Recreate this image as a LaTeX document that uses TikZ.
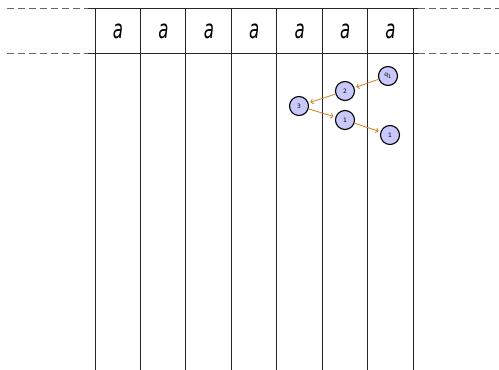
\documentclass[tikz,border=0pt]{standalone}
\usepackage{fontspec}
\setmainfont{DejaVu Sans}[ItalicFont={DejaVu Sans Oblique},BoldFont={DejaVu Sans Bold}]
\usetikzlibrary{arrows.meta}
\begin{document}
\begin{tikzpicture}[x=1pt,y=-1pt,
  grid/.style={line width=1pt,black!85},
  dashline/.style={line width=1pt,gray!80!black,dash pattern=on 7pt off 4pt},
  letter/.style={font=\fontsize{26}{26}\selectfont\itshape,inner sep=0pt},
  st/.style={circle,draw=black,line width=1.1pt,fill={rgb,255:red,200;green,200;blue,250},minimum size=19pt,inner sep=0pt,font=\fontsize{6}{6}\selectfont},
  tr/.style={draw={rgb,255:red,214;green,124;blue,30},line width=0.8pt,-{To[length=3pt,width=5.5pt]},shorten >=2pt,shorten <=0.5pt}]
\useasboundingbox (0,0) rectangle (499,370);
% horizontal lines
\coordinate (tl) at (88,8);
\coordinate (tr) at (418,8);
\coordinate (ml) at (88,53);
\coordinate (mr) at (418,53);
\draw[grid] (tl) -- (tr);
\draw[grid] (ml) -- (mr);
\draw[dashline] (7,8) -- (tl);
\draw[dashline] (7,53) -- (ml);
\draw[dashline] (tr) -- (499,8);
\draw[dashline] (mr) -- (499,53);
% vertical lines
\foreach \i in {0,...,7} {
  \draw[grid] ({95+45.43*\i},8) -- ({95+45.43*\i},370);
}
% letters
\foreach \i in {0,...,6} {
  \node[letter] (a\i) at ({118+45.43*\i},31) {\scalebox{0.64}[1]{\textit{a}}};
}
% states
\node[st] (q1) at (388,76) {q\textsubscript{1}};
\node[st] (s2) at (345,91) {2};
\node[st] (s3) at (299,106) {3};
\node[st] (s1a) at (345,120) {1};
\node[st] (s1b) at (390,135) {1};
\draw[tr] (q1) -- (s2);
\draw[tr] (s2) -- (s3);
\draw[tr] (s3) -- (s1a);
\draw[tr] (s1a) -- (s1b);
\end{tikzpicture}
\end{document}
